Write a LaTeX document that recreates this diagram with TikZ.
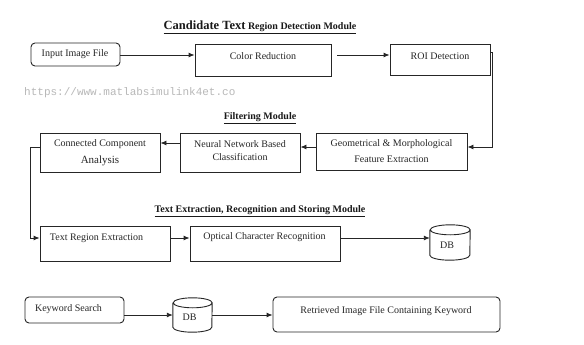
\documentclass[tikz,border=0pt]{standalone}
\usepackage{fontspec}
\setmainfont{Liberation Serif}
\setmonofont{Liberation Mono}
\usetikzlibrary{arrows.meta}
\begin{document}
\begin{tikzpicture}[x=1pt,y=-1pt,
  box/.style={draw=black!85,line width=0.9pt,inner sep=0pt,fill=white},
  rbox/.style={box,rounded corners=4pt},
  lbl/.style={inner sep=0pt,font=\fontsize{10}{12}\selectfont,text=black!85},
  ttl/.style={inner sep=0pt,font=\bfseries\fontsize{10}{12}\selectfont,text=black!90},
  conn/.style={draw=black!85,line width=0.9pt},
  arr/.style={conn,-{Latex[length=6pt,width=5pt]}}]
\useasboundingbox[fill=white] (0,0) rectangle (584,345);

% watermark
\node[anchor=west,inner sep=0pt,font=\ttfamily\fontsize{11}{13}\selectfont,text=black!28] (wm) at (24,93) {https://www.matlabsimulink4et.co};

% titles
\node[ttl] (t1) at (260,27) {\underline{{\fontsize{12.5}{14}\selectfont Candidate Text} Region Detection Module}};
\node[ttl] (t2) at (260,118) {\underline{Filtering Module}};
\node[ttl] (t3) at (260,211) {\underline{Text Extraction, Recognition and Storing Module}};

% row 1
\node[rbox,minimum width=89,minimum height=23] (input) at (75.5,54.5) {};
\node[lbl] (inputt) at (75,54.5) {Input Image File};
\node[box,minimum width=136,minimum height=32] (color) at (263,60) {};
\node[lbl] (colort) at (263,56) {Color Reduction};
\node[box,minimum width=100,minimum height=31] (roi) at (440,59.5) {};
\node[lbl] (roit) at (440,56) {ROI Detection};

% row 2
\node[box,minimum width=151,minimum height=37] (geo) at (391.5,151.5) {};
\node[lbl] (geot1) at (391.5,144) {Geometrical \& Morphological};
\node[lbl] (geot2) at (391.5,159) {Feature Extraction};
\node[box,minimum width=120,minimum height=39] (nn) at (240,152.5) {};
\node[lbl] (nnt1) at (240,144) {Neural Network Based};
\node[lbl] (nnt2) at (240,157) {Classification};
\node[box,minimum width=120,minimum height=39] (cca) at (100,152.5) {};
\node[lbl] (ccat1) at (100,144) {Connected Component};
\node[lbl,font=\fontsize{11}{13}\selectfont] (ccat2) at (100,161) {Analysis};

% row 3
\node[box,minimum width=130,minimum height=35] (tre) at (105,243.5) {};
\node[lbl] (tret) at (96.5,238) {Text Region Extraction};
\node[box,minimum width=150,minimum height=35] (ocr) at (265,243.5) {};
\node[lbl] (ocrt) at (264.5,237) {Optical Character Recognition};
\node[inner sep=0pt,minimum width=40,minimum height=35] (db1) at (450,242.5) {};
\draw[conn,fill=white] ([yshift=-5pt]db1.north west) -- ([yshift=5pt]db1.south west)
  arc[start angle=180,end angle=360,x radius=20pt,y radius=5pt]
  -- ([yshift=-5pt]db1.north east)
  arc[start angle=0,end angle=360,x radius=20pt,y radius=5pt];
\node[lbl] (db1t) at (447,245) {DB};

% row 4
\node[rbox,minimum width=99,minimum height=26] (ks) at (74.5,310) {};
\node[lbl] (kst) at (68.5,309) {Keyword Search};
\node[inner sep=0pt,minimum width=39,minimum height=34] (db2) at (192.5,315) {};
\draw[conn,fill=white] ([yshift=-5pt]db2.north west) -- ([yshift=5pt]db2.south west)
  arc[start angle=180,end angle=360,x radius=19.5pt,y radius=5pt]
  -- ([yshift=-5pt]db2.north east)
  arc[start angle=0,end angle=360,x radius=19.5pt,y radius=5pt];
\node[lbl] (db2t) at (189.5,317) {DB};
\node[rbox,minimum width=227,minimum height=35] (ret) at (386.5,314.5) {};
\node[lbl] (rett) at (386,311) {Retrieved Image File Containing Keyword};

% connectors
\coordinate (r1) at (0,55);
\draw[arr] (input.east |- r1) -- (color.west |- r1);
\draw[arr] ([xshift=6pt]color.east |- r1) -- (roi.west |- r1);
\coordinate (rc) at (492,52);
\draw[arr] (roi.east |- rc) -- (rc) -- (rc |- 0,147) -- (geo.east |- 0,147);
\draw[arr] (geo.west |- 0,147) -- (nn.east |- 0,147);
\draw[arr] (nn.west |- 0,143) -- (cca.east |- 0,143);
\coordinate (lc) at (30,147);
\draw[arr] (cca.west |- lc) -- (lc) -- (lc |- 0,238) -- (tre.west |- 0,238);
\draw[arr] (tre.east |- 0,238) -- (ocr.west |- 0,238);
\draw[arr] (ocr.east |- 0,238) -- (db1.west |- 0,238);
\draw[arr] (ks.east |- 0,315) -- (db2.west |- 0,315);
\draw[arr] (db2.east |- 0,315) -- (ret.west |- 0,315);
\end{tikzpicture}
\end{document}
